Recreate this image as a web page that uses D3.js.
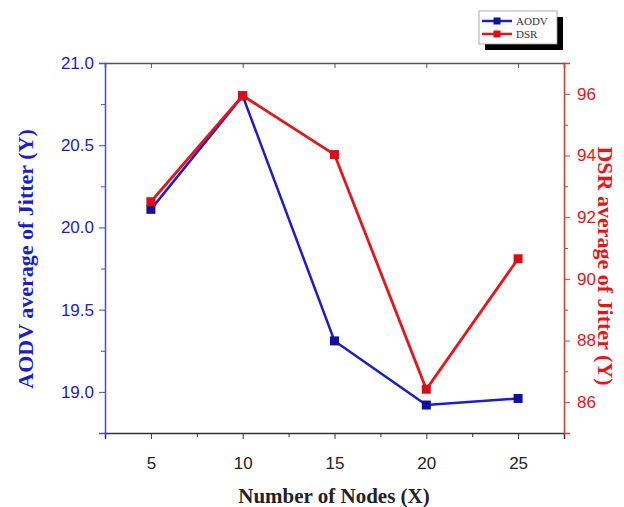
<!DOCTYPE html>
<html>
<head>
<meta charset="utf-8">
<script src="https://cdn.jsdelivr.net/npm/d3@7"></script>
<style>
  body { margin: 0; background: #fff; }
  svg { display: block; }
</style>
</head>
<body>
<div id="container"></div>
<script>
/* DATA */
const nodes = [5, 10, 15, 20, 25];
const aodv = [20.11, 20.80, 19.31, 18.92, 18.96];
const dsr = [92.5, 95.94, 94.03, 86.42, 90.65];
const xTicks = [5, 10, 15, 20, 25];
const leftTicks = [19.0, 19.5, 20.0, 20.5, 21.0];
const rightTicks = [86, 88, 90, 92, 94, 96];

/* CONSTANTS */
const width = 624;
const height = 507;
const mLeft = 105, mRight = 564, mTop = 63, mBottom = 433;
const blue = "#1c1ccc";
const red = "#e8141c";

const svg = d3.select("#container").append("svg")
  .attr("width", width)
  .attr("height", height);

/* SCALES */
const xScale = d3.scaleLinear().domain([2.5, 27.5]).range([mLeft, mRight]);
const yLeft = d3.scaleLinear().domain([18.75, 21]).range([mBottom, mTop]);
const yRight = d3.scaleLinear().domain([85, 97]).range([mBottom, mTop]);

/* AXES */
// top frame with inward ticks
const xTop = svg.append("g")
  .attr("transform", `translate(0, ${mTop})`)
  .call(d3.axisTop(xScale).tickValues(xTicks).tickSize(-5).tickFormat(""));
xTop.select(".domain").attr("stroke", "#555").attr("stroke-width", 1.5);
xTop.selectAll(".tick line").attr("stroke", "#555");

const xAxis = svg.append("g")
  .attr("transform", `translate(0, ${mBottom})`)
  .call(d3.axisBottom(xScale).tickValues(xTicks).tickSize(6).tickPadding(18));
xAxis.select(".domain").attr("stroke", "#333").attr("stroke-width", 1.5);
xAxis.selectAll(".tick line").attr("stroke", "#333");
xAxis.selectAll("text").attr("font-family", "Liberation Sans, Arial, sans-serif")
  .attr("font-size", 17).attr("fill", "#222");
svg.append("g")
  .attr("transform", `translate(0, ${mBottom})`)
  .call(d3.axisBottom(xScale).tickValues([7.5, 12.5, 17.5, 22.5]).tickSize(4).tickFormat(""))
  .call(g => g.select(".domain").remove())
  .selectAll("line").attr("stroke", "#333");

const yAxisL = svg.append("g")
  .attr("transform", `translate(${mLeft}, 0)`)
  .call(d3.axisLeft(yLeft).tickValues(leftTicks).tickSize(6).tickPadding(5).tickFormat(d3.format(".1f")));
yAxisL.select(".domain").attr("stroke", "#4a4ad8").attr("stroke-width", 1.5);
yAxisL.selectAll(".tick line").attr("stroke", "#4a4ad8");
yAxisL.selectAll("text").attr("font-family", "Liberation Sans, Arial, sans-serif")
  .attr("font-size", 17).attr("fill", blue);
svg.append("g")
  .attr("transform", `translate(${mLeft}, 0)`)
  .call(d3.axisLeft(yLeft).tickValues([19.25, 19.75, 20.25, 20.75]).tickSize(4).tickFormat(""))
  .call(g => g.select(".domain").remove())
  .selectAll("line").attr("stroke", "#4a4ad8");

const yAxisR = svg.append("g")
  .attr("transform", `translate(${mRight}, 0)`)
  .call(d3.axisRight(yRight).tickValues(rightTicks).tickSize(6).tickPadding(7));
yAxisR.select(".domain").attr("stroke", "#d83a3a").attr("stroke-width", 1.5);
yAxisR.selectAll(".tick line").attr("stroke", "#d83a3a");
yAxisR.selectAll("text").attr("font-family", "Liberation Sans, Arial, sans-serif")
  .attr("font-size", 17).attr("fill", red);
svg.append("g")
  .attr("transform", `translate(${mRight}, 0)`)
  .call(d3.axisRight(yRight).tickValues([87, 89, 91, 93, 95]).tickSize(4).tickFormat(""))
  .call(g => g.select(".domain").remove())
  .selectAll("line").attr("stroke", "#d83a3a");

/* LINES */
const lineA = d3.line().x((d, i) => xScale(nodes[i])).y(d => yLeft(d));
const lineD = d3.line().x((d, i) => xScale(nodes[i])).y(d => yRight(d));

svg.append("path").datum(aodv)
  .attr("d", lineA).attr("fill", "none")
  .attr("stroke", blue).attr("stroke-width", 2.5);
svg.selectAll("rect.aodv").data(aodv).join("rect")
  .attr("class", "aodv")
  .attr("x", (d, i) => xScale(nodes[i]) - 4.5)
  .attr("y", d => yLeft(d) - 4.5)
  .attr("width", 9).attr("height", 9)
  .attr("fill", "#10109a");

svg.append("path").datum(dsr)
  .attr("d", lineD).attr("fill", "none")
  .attr("stroke", red).attr("stroke-width", 2.8);
svg.selectAll("rect.dsr").data(dsr).join("rect")
  .attr("class", "dsr")
  .attr("x", (d, i) => xScale(nodes[i]) - 4.5)
  .attr("y", d => yRight(d) - 4.5)
  .attr("width", 9).attr("height", 9)
  .attr("fill", "#d80f17");

/* TITLES */
svg.append("text")
  .attr("transform", "translate(33, 259) rotate(-90)")
  .attr("text-anchor", "middle")
  .attr("font-family", "Liberation Serif, Times New Roman, serif")
  .attr("font-weight", "bold")
  .attr("font-size", 22)
  .attr("fill", blue)
  .text("AODV average of Jitter (Y)");

svg.append("text")
  .attr("transform", "translate(598, 266) rotate(90)")
  .attr("text-anchor", "middle")
  .attr("font-family", "Liberation Serif, Times New Roman, serif")
  .attr("font-weight", "bold")
  .attr("font-size", 22)
  .attr("fill", red)
  .text("DSR average of Jitter (Y)");

svg.append("text")
  .attr("x", 334)
  .attr("y", 503)
  .attr("text-anchor", "middle")
  .attr("font-family", "Liberation Serif, Times New Roman, serif")
  .attr("font-weight", "bold")
  .attr("font-size", 21)
  .attr("fill", "#222")
  .text("Number of Nodes (X)");

/* LEGEND */
const lg = svg.append("g").attr("transform", "translate(479, 11)");
lg.append("rect").attr("x", 6).attr("y", 6).attr("width", 78).attr("height", 33).attr("fill", "#000");
lg.append("rect").attr("x", 0).attr("y", 0).attr("width", 78).attr("height", 33)
  .attr("fill", "#fff").attr("stroke", "#999").attr("stroke-width", 0.8);
const legendItems = [["AODV", blue, "#10109a"], ["DSR", red, "#d80f17"]];
legendItems.forEach(([name, c, m], i) => {
  const y = 10 + i * 13;
  lg.append("line").attr("x1", 3).attr("x2", 33).attr("y1", y).attr("y2", y)
    .attr("stroke", c).attr("stroke-width", 2.5);
  lg.append("rect").attr("x", 14.5).attr("y", y - 3.5).attr("width", 7).attr("height", 7).attr("fill", m);
  lg.append("text").attr("x", 37).attr("y", y + 3.5)
    .attr("font-family", "Liberation Serif, Times New Roman, serif")
    .attr("font-size", 11).attr("fill", "#333").text(name);
});
</script>
</body>
</html>
